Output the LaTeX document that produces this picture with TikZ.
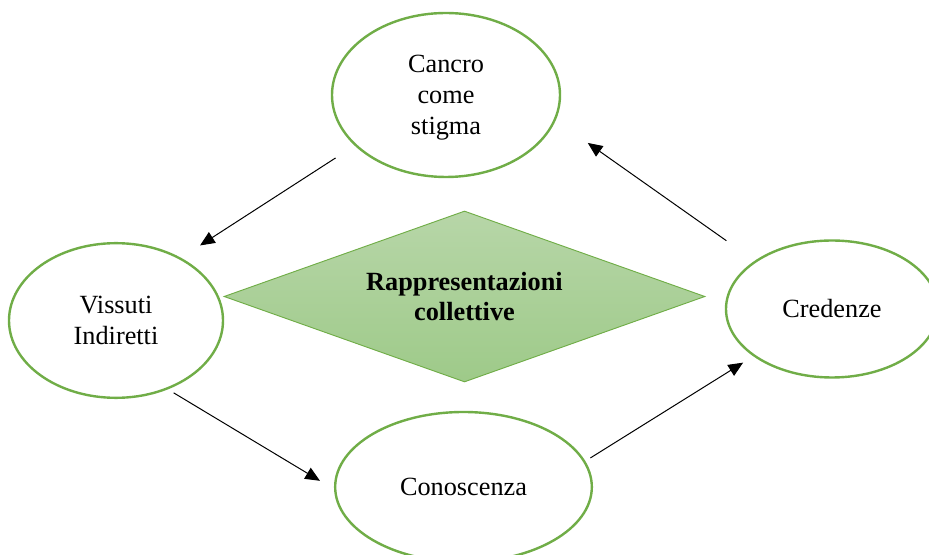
\documentclass[tikz,border=0pt]{standalone}
\usepackage{fontspec}
\setmainfont{Liberation Serif}
\usetikzlibrary{arrows.meta,shapes.geometric}
\definecolor{leafgreen}{RGB}{112,173,71}
\definecolor{paletop}{RGB}{183,214,168}
\definecolor{palebottom}{RGB}{158,202,137}

\begin{document}
\begin{tikzpicture}[
  x=0.75pt, y=-0.75pt,
  every node/.style={font=\fontsize{19.7}{23.3}\selectfont, align=center, inner sep=1pt},
  bubble/.style={ellipse, draw=leafgreen, line width=1.8pt, fill=white},
  core/.style={diamond, aspect=2.8, draw=leafgreen, line width=0.7pt,
    top color=paletop, bottom color=palebottom,
    minimum width=360.75pt, minimum height=128.25pt,
    font=\fontsize{19.7}{22.5}\selectfont\bfseries},
  flow/.style={draw, -{Triangle[length=11pt,width=9.5pt]}, line width=0.75pt}
]
\clip (0,0) rectangle (929,555);

\node[core] (rappr) at (464.5,296.5) {Rappresentazioni\\collettive};

\node[bubble, minimum width=171pt, minimum height=123pt, text depth=-4pt] (stigma) at (446,95) {Cancro\\come\\stigma};
\node[bubble, minimum width=160.5pt, minimum height=116pt] (vissuti) at (116,320.5) {Vissuti\\Indiretti};
\node[bubble, minimum width=192.5pt, minimum height=112.5pt] (conoscenza) at (463.5,487) {Conoscenza};
\node[bubble, minimum width=159pt, minimum height=102.75pt] (credenze) at (832,309) {Credenze};

% cycle
\draw[flow, shorten <=17pt, shorten >=17pt] (stigma.209) -- (vissuti.44);
\draw[flow, shorten <=5pt, shorten >=12.3pt] (vissuti.307) -- (conoscenza.181);
\draw[flow, shorten <=4.5pt, shorten >=9pt] (conoscenza.12) -- (credenze.211);
\draw[flow, shorten <=26pt, shorten >=29.4pt] (credenze.148) -- (stigma.347);
\end{tikzpicture}
\end{document}
